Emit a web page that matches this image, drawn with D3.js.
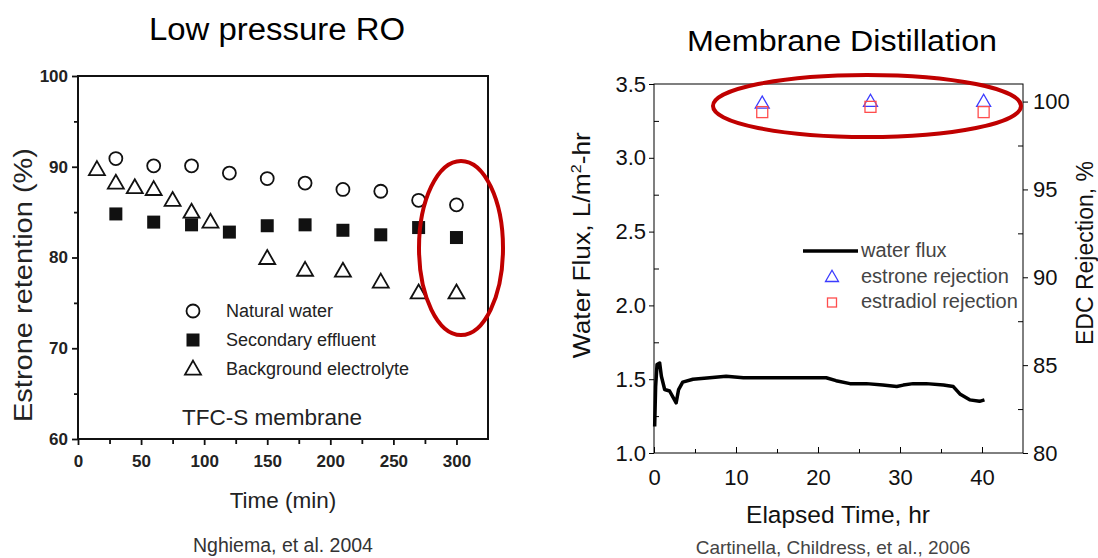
<!DOCTYPE html>
<html>
<head>
<meta charset="utf-8">
<script src="https://cdn.jsdelivr.net/npm/d3@7"></script>
<style>
  body { margin: 0; background: #fff; }
  svg { font-family: Arial, "Liberation Sans", sans-serif; }
</style>
</head>
<body>
<svg id="chart" width="1098" height="558"></svg>
<script>
"use strict";

// ---- left chart data (Low pressure RO, estrone retention %) ----
var naturalTime = [30, 60, 90, 120, 150, 180, 210, 240, 270, 300];
var naturalWater = [90.9, 90.1, 90.1, 89.3, 88.7, 88.2, 87.5, 87.3, 86.3, 85.8];

var effluentTime = [30, 60, 90, 120, 150, 180, 210, 240, 270, 300];
var secondaryEffluent = [84.8, 83.9, 83.6, 82.8, 83.5, 83.6, 83.0, 82.5, 83.3, 82.2];

var electrolyteTime = [15, 30, 45, 60, 75, 90, 105, 150, 180, 210, 240, 270, 300];
var backgroundElectrolyte = [89.7, 88.2, 87.7, 87.5, 86.3, 85.0, 83.9, 79.9, 78.6, 78.5, 77.3, 76.1, 76.1];

var leftXTicks = [0, 50, 100, 150, 200, 250, 300];
var leftYTicks = [60, 70, 80, 90, 100];

// ---- right chart data (Membrane Distillation) ----
var fluxTime = [0.08, 0.2, 0.37, 0.69, 0.9, 1.3, 1.9, 2.5, 2.7, 3.0, 3.5, 4.75, 6.8, 8.8, 10.9,
    12.9, 15.0, 17.0, 19.0, 21.0, 22.2, 23.9, 25.9, 27.9, 29.6, 30.4, 31.6, 33.2, 35.3,
    36.5, 37.3, 38.5, 39.7, 40.3];
var waterFlux = [1.18, 1.45, 1.60, 1.61, 1.52, 1.43, 1.42, 1.36, 1.34, 1.43, 1.48, 1.50, 1.51, 1.52, 1.51,
    1.51, 1.51, 1.51, 1.51, 1.51, 1.49, 1.47, 1.47, 1.46, 1.45, 1.46, 1.47, 1.47, 1.46,
    1.45, 1.40, 1.36, 1.35, 1.36];

var rejectionTime = [13.2, 26.4, 40.2];
var estroneRejection = [99.9, 100.0, 100.0];
var estradiolRejection = [99.4, 99.7, 99.4];

var rightXTicks = [0, 10, 20, 30, 40];
var fluxTicks = [1.0, 1.5, 2.0, 2.5, 3.0, 3.5];
var rejectionTicks = [80, 85, 90, 95, 100];

var svg = d3.select("#chart");
var ovalRed = "#c00000";

// vertical label, reads bottom to top, centred on cy with its baseline at x
var verticalLabel = function(parent, x, cy, size, color, fill) {
    var t = parent.append("text")
        .attr("transform", "translate(" + x + ",0) rotate(-90)")
        .style("font-size", size + "px")
        .attr("fill", color);
    fill(t);
    var w = t.node().getBBox().width;
    t.attr("x", -cy - w / 2).attr("y", 0);
    return t;
};

var triPath = function(size) {
    var h = size * 0.87;
    return "M0," + (-h * 0.6) + "L" + (size / 2) + "," + (h * 0.4) + "L" + (-size / 2) + "," + (h * 0.4) + "Z";
};

// ================= LEFT CHART =================
var lx = d3.scaleLinear().domain([0, 325]).range([78, 488]);
var ly = d3.scaleLinear().domain([60, 100]).range([439, 76]);

var left = svg.append("g");

left.append("text")
    .attr("x", 277).attr("y", 40)
    .attr("text-anchor", "middle")
    .style("font-size", "31px")
    .attr("textLength", 256)
    .attr("lengthAdjust", "spacingAndGlyphs")
    .text("Low pressure RO");

left.append("rect")
    .attr("x", lx(0)).attr("y", ly(100))
    .attr("width", lx(325) - lx(0)).attr("height", ly(60) - ly(100))
    .attr("fill", "none").attr("stroke", "#111").attr("stroke-width", 2);

// axes
left.append("g")
    .attr("transform", "translate(0," + ly(60) + ")")
    .call(d3.axisBottom(lx).tickValues(leftXTicks).tickSize(6).tickPadding(10));
left.append("g")
    .attr("transform", "translate(0," + ly(60) + ")")
    .call(d3.axisBottom(lx).tickValues([25, 75, 125, 175, 225, 275]).tickSize(5).tickFormat(""));
left.append("g")
    .attr("transform", "translate(" + lx(0) + ",0)")
    .call(d3.axisLeft(ly).tickValues(leftYTicks).tickSize(6).tickPadding(4));
left.append("g")
    .attr("transform", "translate(" + lx(0) + ",0)")
    .call(d3.axisLeft(ly).tickValues([65, 75, 85, 95]).tickSize(4).tickFormat(""));

left.selectAll(".domain").remove();
left.selectAll(".tick line").attr("stroke", "#111").attr("stroke-width", 1.8);
left.selectAll(".tick text")
    .style("font-size", "17px")
    .style("font-weight", "bold")
    .attr("fill", "#222");

verticalLabel(left, 32, 285, 25, "#222", function(t) {
    t.attr("textLength", 274)
        .attr("lengthAdjust", "spacingAndGlyphs")
        .text("Estrone retention (%)");
});

left.append("text")
    .attr("x", 283).attr("y", 508)
    .attr("text-anchor", "middle")
    .style("font-size", "22.5px")
    .attr("fill", "#222")
    .text("Time (min)");

left.append("text")
    .attr("x", 283).attr("y", 552)
    .attr("text-anchor", "middle")
    .style("font-size", "19.5px")
    .attr("fill", "#333")
    .text("Nghiema, et al. 2004");

// markers
left.append("g").selectAll("circle")
    .data(naturalWater)
    .join("circle")
    .attr("cx", function(d, i) { return lx(naturalTime[i]); })
    .attr("cy", function(d) { return ly(d); })
    .attr("r", 6.5)
    .attr("fill", "none").attr("stroke", "#111").attr("stroke-width", 1.8);

left.append("g").selectAll("rect")
    .data(secondaryEffluent)
    .join("rect")
    .attr("x", function(d, i) { return lx(effluentTime[i]) - 6.5; })
    .attr("y", function(d) { return ly(d) - 6.5; })
    .attr("width", 13).attr("height", 13)
    .attr("fill", "#111");

left.append("g").selectAll("path")
    .data(backgroundElectrolyte)
    .join("path")
    .attr("transform", function(d, i) { return "translate(" + lx(electrolyteTime[i]) + "," + ly(d) + ")"; })
    .attr("d", triPath(16))
    .attr("fill", "none").attr("stroke", "#111").attr("stroke-width", 1.8);

// legend
var legL = left.append("g").attr("transform", "translate(193,311)");
legL.append("circle").attr("cx", 0).attr("cy", 0).attr("r", 6.5)
    .attr("fill", "none").attr("stroke", "#111").attr("stroke-width", 1.8);
legL.append("rect").attr("x", -6.5).attr("y", 22.5).attr("width", 13).attr("height", 13).attr("fill", "#111");
legL.append("path").attr("transform", "translate(0,58)").attr("d", triPath(16))
    .attr("fill", "none").attr("stroke", "#111").attr("stroke-width", 1.8);
["Natural water", "Secondary effluent", "Background electrolyte"].forEach(function(t, i) {
    legL.append("text")
        .attr("x", 33).attr("y", i * 29 + 6)
        .style("font-size", "18px")
        .attr("fill", "#222")
        .text(t);
});

left.append("text")
    .attr("x", 182).attr("y", 425)
    .style("font-size", "22.5px")
    .attr("fill", "#222")
    .text("TFC-S membrane");

left.append("ellipse")
    .attr("cx", 461).attr("cy", 248).attr("rx", 42).attr("ry", 87)
    .attr("fill", "none").attr("stroke", ovalRed).attr("stroke-width", 4);

// ================= RIGHT CHART =================
var rx = d3.scaleLinear().domain([0, 45]).range([654, 1023]);
var fy = d3.scaleLinear().domain([1.0, 3.5]).range([453, 84]);
var ry = d3.scaleLinear().domain([80, 101]).range([453, 84]);

var right = svg.append("g");

right.append("text")
    .attr("x", 842).attr("y", 51)
    .attr("text-anchor", "middle")
    .style("font-size", "30px")
    .attr("textLength", 310)
    .attr("lengthAdjust", "spacingAndGlyphs")
    .text("Membrane Distillation");

right.append("rect")
    .attr("x", rx(0)).attr("y", fy(3.5))
    .attr("width", rx(45) - rx(0)).attr("height", fy(1.0) - fy(3.5))
    .attr("fill", "none").attr("stroke", "#000").attr("stroke-width", 1);

right.append("g")
    .attr("transform", "translate(0," + fy(1.0) + ")")
    .call(d3.axisBottom(rx).tickValues(rightXTicks).tickSize(-6).tickPadding(16));
right.append("g")
    .attr("transform", "translate(0," + fy(1.0) + ")")
    .call(d3.axisBottom(rx).tickValues([5, 15, 25, 35]).tickSize(-4).tickFormat(""));
right.append("g")
    .attr("transform", "translate(" + rx(0) + ",0)")
    .call(d3.axisLeft(fy).tickValues(fluxTicks).tickSize(5).tickPadding(3).tickFormat(d3.format(".1f")));
right.append("g")
    .attr("transform", "translate(" + rx(0) + ",0)")
    .call(d3.axisLeft(fy).tickValues([1.25, 1.75, 2.25, 2.75, 3.25]).tickSize(-5).tickFormat(""));
right.append("g")
    .attr("transform", "translate(" + rx(45) + ",0)")
    .call(d3.axisRight(ry).tickValues(rejectionTicks).tickSize(5).tickPadding(5));
right.append("g")
    .attr("transform", "translate(" + rx(45) + ",0)")
    .call(d3.axisRight(ry).tickValues([82.5, 87.5, 92.5, 97.5]).tickSize(-5).tickFormat(""));

right.selectAll(".domain").remove();
right.selectAll(".tick line").attr("stroke", "#000");
right.selectAll(".tick text").style("font-size", "22px").attr("fill", "#111");

verticalLabel(right, 590, 245, 23, "#111", function(t) {
    t.attr("textLength", 226)
        .attr("lengthAdjust", "spacingAndGlyphs")
        .html("Water Flux, L/m<tspan dy='-9' font-size='14px'>2</tspan><tspan dy='9'>-hr</tspan>");
});

verticalLabel(right, 1093, 253, 23, "#111", function(t) {
    t.text("EDC Rejection, %");
});

right.append("text")
    .attr("x", 838).attr("y", 523)
    .attr("text-anchor", "middle")
    .style("font-size", "24.5px")
    .attr("fill", "#111")
    .text("Elapsed Time, hr");

right.append("text")
    .attr("x", 833).attr("y", 554)
    .attr("text-anchor", "middle")
    .style("font-size", "19px")
    .attr("fill", "#444")
    .text("Cartinella, Childress, et al., 2006");

// water flux line
var fluxLine = d3.line()
    .x(function(d, i) { return rx(fluxTime[i]); })
    .y(function(d) { return fy(d); });
right.append("path")
    .datum(waterFlux)
    .attr("d", fluxLine)
    .attr("fill", "none").attr("stroke", "#000").attr("stroke-width", 3.5)
    .attr("stroke-linejoin", "round");

// rejection markers
var blue = "#3b3bff", red = "#ff4d4d";
right.append("g").selectAll("path")
    .data(estroneRejection)
    .join("path")
    .attr("transform", function(d, i) { return "translate(" + rx(rejectionTime[i]) + "," + ry(d) + ")"; })
    .attr("d", triPath(14))
    .attr("fill", "none").attr("stroke", blue).attr("stroke-width", 1.3);
right.append("g").selectAll("rect")
    .data(estradiolRejection)
    .join("rect")
    .attr("x", function(d, i) { return rx(rejectionTime[i]) - 5.5; })
    .attr("y", function(d) { return ry(d) - 5.5; })
    .attr("width", 11).attr("height", 11)
    .attr("fill", "none").attr("stroke", red).attr("stroke-width", 1.3);

// legend
var legR = right.append("g");
legR.append("line").attr("x1", 803).attr("x2", 858).attr("y1", 251).attr("y2", 251)
    .attr("stroke", "#000").attr("stroke-width", 3.5);
legR.append("path").attr("transform", "translate(832,277)").attr("d", triPath(13))
    .attr("fill", "none").attr("stroke", blue).attr("stroke-width", 1.3);
legR.append("rect").attr("x", 827.5).attr("y", 298).attr("width", 9).attr("height", 9)
    .attr("fill", "none").attr("stroke", red).attr("stroke-width", 1.3);
["water flux", "estrone rejection", "estradiol rejection"].forEach(function(t, i) {
    legR.append("text")
        .attr("x", 861).attr("y", 257 + i * 25.5)
        .style("font-size", "20px")
        .attr("fill", "#444")
        .text(t);
});

right.append("ellipse")
    .attr("cx", 867).attr("cy", 106).attr("rx", 154).attr("ry", 31)
    .attr("fill", "none").attr("stroke", ovalRed).attr("stroke-width", 4);
</script>
</body>
</html>
